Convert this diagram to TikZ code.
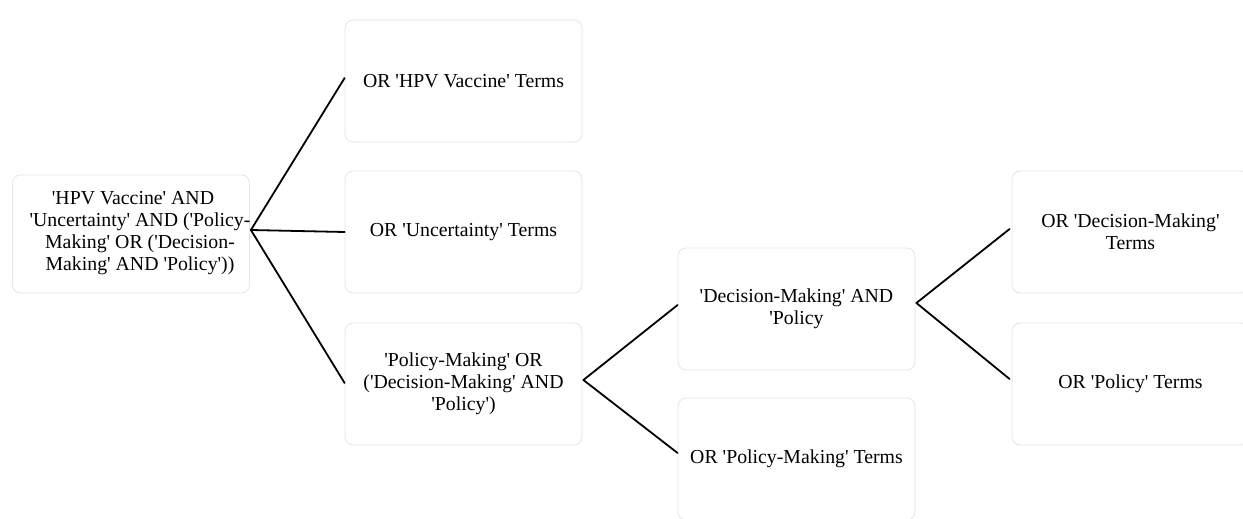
\documentclass[tikz,border=0pt]{standalone}
\usepackage{fontspec}
\setmainfont{Liberation Serif}[Ligatures=TeXOff]
\begin{document}
\begin{tikzpicture}[x=1pt,y=-1pt,
  box/.style={draw=black!10, line width=0.8pt, fill=white, rounded corners=8pt,
    minimum width=237pt, minimum height=122pt, inner sep=0pt,
    align=center, font=\fontsize{19.8pt}{22pt}\selectfont},
  txt/.style={inner sep=0pt, align=center, font=\fontsize{19.8pt}{22pt}\selectfont},
  link/.style={draw=black, line width=1.8pt, line cap=round, line join=round}]
\useasboundingbox (0,0) rectangle (1243,519);

% root query
\node[box, minimum width=237pt, minimum height=118pt] (root) at (131,234) {};
\node[txt] (roottext) at (140,233)
  {'HPV Vaccine' AND\hspace*{14pt}\\'Uncertainty' AND ('Policy-\\Making' OR ('Decision-\\Making' AND 'Policy'))};

% first level
\node[box] (hpv) at (463.5,81) {OR 'HPV Vaccine' Terms};
\node[box] (unc) at (463.5,232) {OR 'Uncertainty' Terms};
\node[box] (pol) at (463.5,384) {'Policy-Making' OR\\('Decision-Making' AND\\'Policy')};

% second level
\node[box] (dmp) at (796.5,309) {'Decision-Making' AND\\'Policy};
\node[box] (pmt) at (796.5,459) {OR 'Policy-Making' Terms};

% third level
\node[box] (dmt) at (1130.5,232) {OR 'Decision-Making'\\Terms};
\node[box] (pt) at (1130.5,384) {OR 'Policy' Terms};

% connectors
\draw[link] ([yshift=4pt,xshift=1pt]root.east) -- ([yshift=3pt]hpv.west);
\draw[link] ([yshift=4pt,xshift=1pt]root.east) -- (unc.west);
\draw[link] ([yshift=4pt,xshift=1pt]root.east) -- ([yshift=1pt]pol.west);
\draw[link] ([yshift=4pt,xshift=1pt]pol.east) -- ([yshift=4pt]dmp.west);
\draw[link] ([yshift=4pt,xshift=1pt]pol.east) -- ([yshift=6pt]pmt.west);
\draw[link] ([yshift=6pt,xshift=1pt]dmp.east) -- ([yshift=3pt,xshift=-2pt]dmt.west);
\draw[link] ([yshift=6pt,xshift=1pt]dmp.east) -- ([yshift=5pt,xshift=-2pt]pt.west);
\end{tikzpicture}
\end{document}
